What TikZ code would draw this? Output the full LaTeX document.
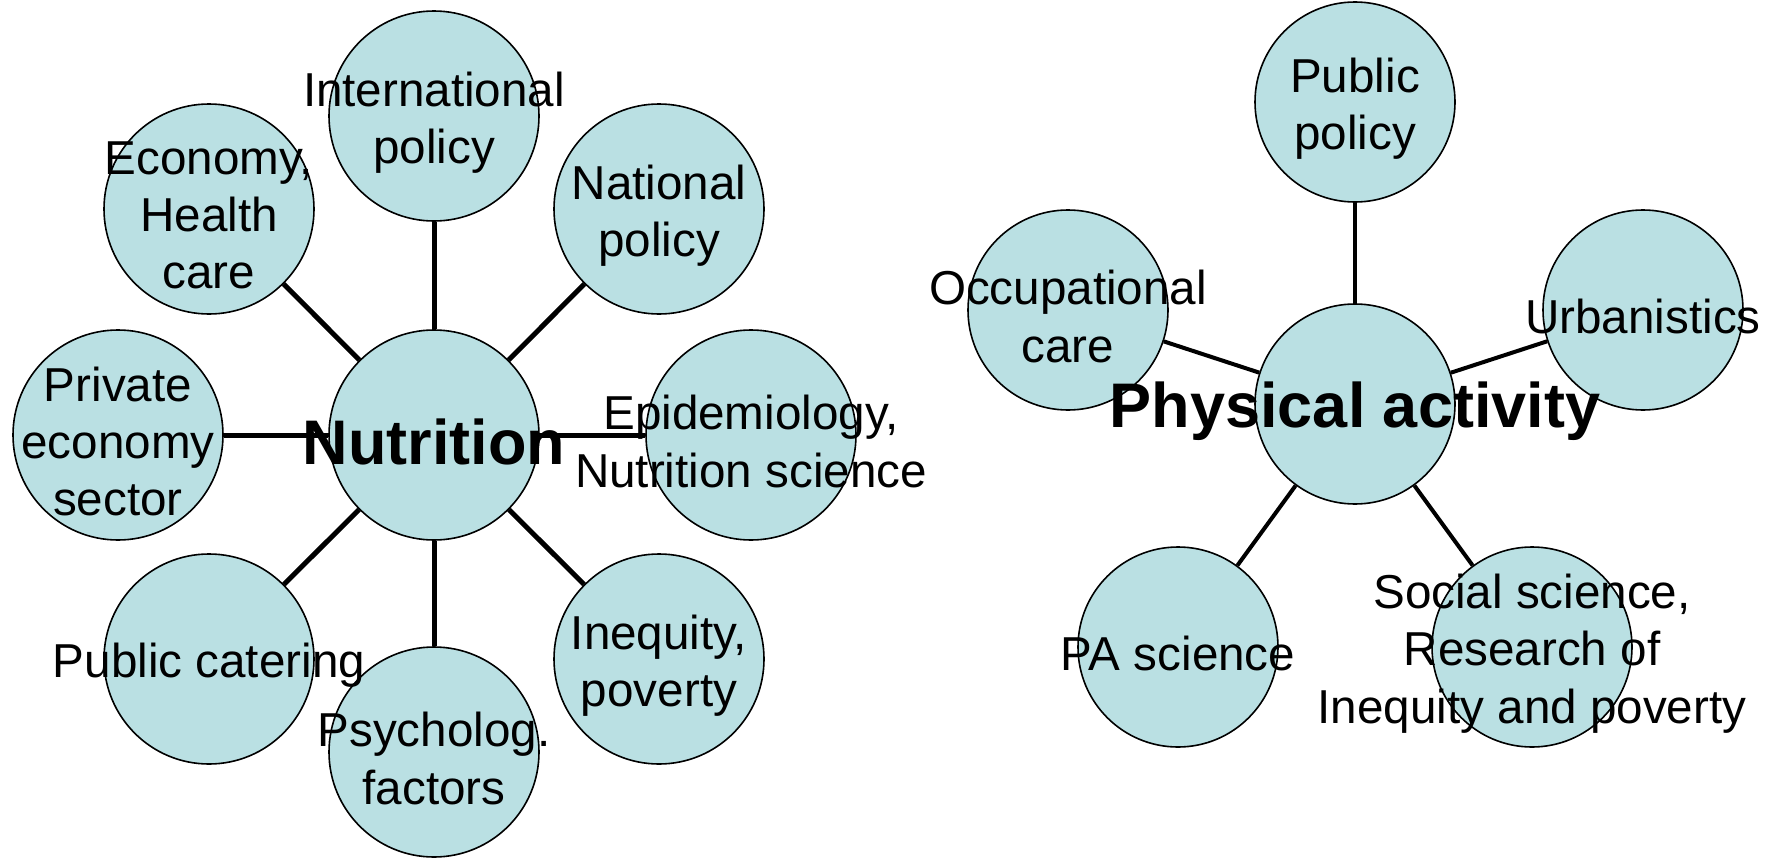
\documentclass[tikz,border=0pt]{standalone}
\usepackage{fontspec}
\setmainfont{Liberation Sans}
\definecolor{bubble}{HTML}{BAE0E3}

\begin{document}
\begin{tikzpicture}[x = 0.5pt, y = -0.5pt,
		bigball/.style = {circle, draw, fill = bubble, line width = 0.8pt, inner sep = 0pt, minimum size = 105pt},
		smallball/.style = {circle, draw, fill = bubble, line width = 0.8pt, inner sep = 0pt, minimum size = 100pt},
		link/.style = {line width = 2.5pt},
		thinlink/.style = {line width = 2pt},
		lbl/.style = {align = center, inner sep = 0pt, yshift = -3.2pt, font = \fontsize{23.8}{28.7}\selectfont},
		hublbl/.style = {inner sep = 0pt, yshift = -3.5pt, font = \fontsize{31.5}{36}\selectfont\bfseries}]
		
		\useasboundingbox (0, 0) rectangle (1773, 862);
		
		\node[bigball] (nut) at (434, 435) {};
		\node[bigball] (intl) at (434, 116) {};
		\node[bigball] (econ) at (209, 209) {};
		\node[bigball] (natl) at (659, 209) {};
		\node[bigball] (priv) at (118, 435) {};
		\node[bigball] (epid) at (751, 435) {};
		\node[bigball] (cater) at (209, 659) {};
		\node[bigball] (psych) at (434, 752) {};
		\node[bigball] (ineq) at (659, 659) {};
		
		\node[smallball] (pa) at (1355, 404) {};
		\node[smallball] (pubpol) at (1355, 102) {};
		\node[smallball] (occ) at (1068, 310) {};
		\node[smallball] (urb) at (1643, 310) {};
		\node[smallball] (pasci) at (1178, 647) {};
		\node[smallball] (soc) at (1532, 647) {};
		
		\draw[link] (nut) -- (intl);
		\draw[link] (nut) -- (econ);
		\draw[link] (nut) -- (natl);
		\draw[link] (nut) -- (priv);
		\draw[link] (nut) -- (epid);
		\draw[link] (nut) -- (cater);
		\draw[link] (nut) -- (psych);
		\draw[link] (nut) -- (ineq);
		
		\draw[thinlink] (pa) -- (pubpol);
		\draw[thinlink] (pa) -- (occ);
		\draw[thinlink] (pa) -- (urb);
		\draw[thinlink] (pa) -- (pasci);
		\draw[thinlink] (pa) -- (soc);
		
		\node[hublbl] at (nut) {Nutrition};
		\node[lbl] at (intl) {International\\policy};
		\node[lbl] at (econ) {Economy,\\Health\\care};
		\node[lbl] at (natl) {National\\policy};
		\node[lbl] at (priv) {Private\\economy\\sector};
		\node[lbl] at (epid) {Epidemiology,\\Nutrition science};
		\node[lbl] at (cater) {Public catering};
		\node[lbl] at (psych) {Psycholog.\\factors};
		\node[lbl] at (ineq) {Inequity,\\poverty};
		
		\node[hublbl] at (pa) {Physical activity};
		\node[lbl] at (pubpol) {Public\\policy};
		\node[lbl] at (occ) {Occupational\\care};
		\node[lbl] at (urb) {Urbanistics};
		\node[lbl] at (pasci) {PA science};
		\node[lbl] at (soc) {Social science,\\Research of\\Inequity and poverty};
	\end{tikzpicture}
\end{document}
